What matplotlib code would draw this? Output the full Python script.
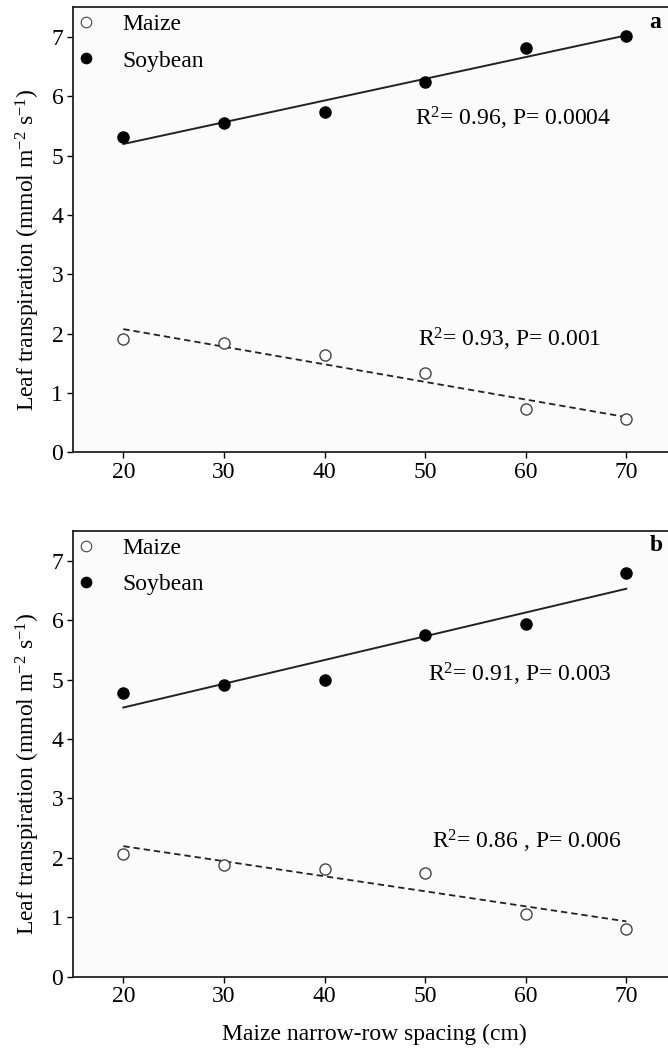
import numpy as np
import matplotlib
matplotlib.use('Agg')
import matplotlib.pyplot as plt

plt.rcParams['font.family'] = 'Liberation Serif'
plt.rcParams['mathtext.fontset'] = 'custom'
plt.rcParams['mathtext.rm'] = 'Liberation Serif'
plt.rcParams['mathtext.it'] = 'Liberation Serif:italic'

spacing = [20, 30, 40, 50, 60, 70]

# panel a
maize_a = [1.91, 1.84, 1.64, 1.34, 0.73, 0.56]
soy_a = [5.31, 5.55, 5.74, 6.24, 6.82, 7.01]
# panel b
maize_b = [2.07, 1.88, 1.82, 1.75, 1.05, 0.81]
soy_b = [4.77, 4.91, 5.00, 5.75, 5.94, 6.80]

stats_a = ['R$^2$= 0.96, P= 0.0004', 'R$^2$= 0.93, P= 0.001']
stats_b = ['R$^2$= 0.91, P= 0.003', 'R$^2$= 0.86 , P= 0.006']

fig = plt.figure(figsize=(6.68, 10.51), dpi=100)
ax_a = fig.add_axes([0.1093, 0.5695, 0.9036, 0.4236])
ax_b = fig.add_axes([0.1093, 0.0707, 0.9036, 0.4241])


def panel(ax, maize, soy, stats, stat_pos, tag):
    x = np.array(spacing, dtype=float)
    ax.set_facecolor('#fbfbfb')
    ax.plot(x, maize, 'o', ms=8, mfc='white', mec='#444444', mew=1.0,
            label='Maize', zorder=3)
    ax.plot(x, soy, 'o', ms=8, color='black', label='Soybean', zorder=3)
    # linear fits
    km, bm = np.polyfit(x, maize, 1)
    ks, bs = np.polyfit(x, soy, 1)
    ax.plot(x[[0, -1]], km * x[[0, -1]] + bm, color='#222222', lw=1.3,
            ls=(0, (3.5, 2.2)), zorder=2)
    ax.plot(x[[0, -1]], ks * x[[0, -1]] + bs, color='#222222', lw=1.4, zorder=2)

    ax.set_xlim(15, 75)
    ax.set_ylim(0, 7.5)
    ax.set_xticks(spacing)
    ax.set_yticks(range(8))
    ax.tick_params(direction='out', length=4, width=1, labelsize=17, pad=3)
    for s in ax.spines.values():
        s.set_linewidth(1.3)
        s.set_color('#222222')
    ax.set_ylabel('Leaf transpiration (mmol m$^{-2}$ s$^{-1}$)', fontsize=17)
    ax.yaxis.set_label_coords(-0.052, 0.455)

    for txt, (tx, ty) in zip(stats, stat_pos):
        ax.text(tx, ty, txt, fontsize=17, va='center', ha='left')
    ax.text(0.955, 0.99, tag, transform=ax.transAxes, fontsize=17,
            fontweight='bold', va='top', ha='left')

    leg = ax.legend(loc='upper left', frameon=False, fontsize=17,
                    markerscale=0.95, handlelength=0.5, handletextpad=1.3,
                    borderaxespad=0.0, labelspacing=0.62, borderpad=0.28)
    for h in leg.legend_handles:
        h.set_markeredgewidth(0.8)


panel(ax_a, maize_a, soy_a, stats_a, [(49.0, 5.62), (49.3, 1.90)], 'a')
panel(ax_b, maize_b, soy_b, stats_b, [(50.3, 5.09), (50.7, 2.28)], 'b')
ax_b.set_xlabel('Maize narrow-row spacing (cm)', fontsize=17, labelpad=12)

fig.savefig('out.png', dpi=100)
